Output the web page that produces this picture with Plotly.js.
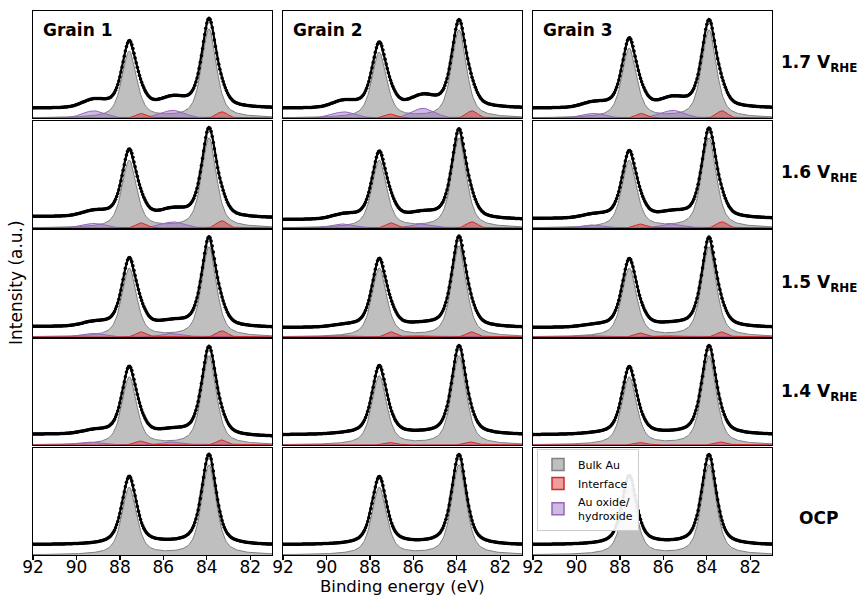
<!DOCTYPE html>
<html><head><meta charset="utf-8">
<script src="https://cdn.plot.ly/plotly-3.0.1.min.js"></script>
<style>body{margin:0;background:#fff}#chart{width:860px;height:597px}</style>
</head><body><div id="chart"></div>
<script>
// ---- labels ----
const grains = ['Grain 1', 'Grain 2', 'Grain 3'];
const potentials = ['1.7 V<sub>RHE</sub>', '1.6 V<sub>RHE</sub>', '1.5 V<sub>RHE</sub>', '1.4 V<sub>RHE</sub>', 'OCP'];
const xTicks = [92, 90, 88, 86, 84, 82];
const legendNames = ['Bulk Au', 'Interface', 'Au oxide/<br>hydroxide'];

// ---- fitted peak positions (eV) and FWHM ----
const bulkPos = [83.9, 87.57];
const intfPos = [83.3, 87.0];
const oxPos = [85.55, 89.2];
const bulkFwhm = 0.8, intfFwhm = 0.6, oxFwhm = 1.25;

// ---- fitted heights per panel [row][col] (normalised intensity) ----
const bulkH84 = [[0.87,0.86,0.86],[0.88,0.88,0.88],[0.88,0.89,0.88],[0.88,0.88,0.88],[0.88,0.88,0.88]];
const bulkH88 = [[0.65,0.64,0.68],[0.66,0.66,0.66],[0.67,0.67,0.67],[0.67,0.68,0.67],[0.66,0.66,0.67]];
const intfH84 = [[0.06,0.07,0.07],[0.07,0.06,0.06],[0.06,0.05,0.05],[0.05,0.03,0.03],[0,0,0]];
const intfH87 = [[0.045,0.04,0.045],[0.05,0.05,0.04],[0.05,0.05,0.04],[0.04,0.025,0.025],[0,0,0]];
const oxH85 = [[0.075,0.095,0.075],[0.06,0.04,0.04],[0.035,0.015,0.015],[0.03,0.005,0.005],[0,0,0]];
const oxH89 = [[0.07,0.06,0.045],[0.045,0.04,0.03],[0.035,0.015,0.015],[0.03,0.005,0.005],[0,0,0]];
// Shirley-type background levels: low-BE end, between peaks, high-BE end
const bgRight = [[0.095,0.095,0.095],[0.095,0.08,0.09],[0.09,0.09,0.09],[0.08,0.10,0.10],[0.095,0.095,0.095]];
const bgMid   = [[0.105,0.10,0.10],[0.10,0.09,0.095],[0.10,0.095,0.095],[0.10,0.10,0.10],[0.115,0.11,0.11]];
const bgLeft  = [[0.095,0.095,0.095],[0.11,0.08,0.09],[0.10,0.09,0.09],[0.105,0.10,0.10],[0.10,0.10,0.10]];

// ---- geometry (pixels) ----
const W = 860, H = 597;
const colPx = [[33,272],[283,522],[533,772]];
const rowPx = [[11,118],[121,228],[230,337],[339,445],[448,555]];

// line shapes of the fit model
function pv(x, c, h, f) { const eta = 0.6; const d = (x - c) / f;
  return h * (eta / (1 + 4 * d * d) + (1 - eta) * Math.exp(-4 * Math.LN2 * d * d)); }
function ga(x, c, h, f) { const d = (x - c) / f; return h * Math.exp(-4 * Math.LN2 * d * d); }
function step(x, c) { return 0.5 + Math.atan((x - c) / 0.4) / Math.PI; }

const xs = [];
for (let i = 0; i <= 220; i++) xs.push(+(81 + i * 0.05).toFixed(2));

const colors = {
  bulk: {fill: 'rgba(128,128,128,0.5)', line: '#808080'},
  intf: {fill: 'rgba(214,39,40,0.45)', line: '#d62728'},
  ox: {fill: 'rgba(148,103,189,0.45)', line: '#9467bd'}
};

const traces = [];
const layout = {
  width: W, height: H, margin: {l:0, r:0, t:0, b:0},
  paper_bgcolor: '#fff', plot_bgcolor: '#fff',
  font: {family: 'DejaVu Sans', color: '#000'},
  showlegend: true,
  legend: {x: 537/W, y: 1 - 449/H, xanchor: 'left', yanchor: 'top',
    bgcolor: 'rgba(255,255,255,0.9)', bordercolor: '#cccccc', borderwidth: 1,
    font: {size: 11, family: 'DejaVu Sans'}, tracegroupgap: 0, itemwidth: 30},
  annotations: []
};

for (let r = 0; r < 5; r++) {
  for (let c = 0; c < 3; c++) {
    const k = r * 3 + c + 1;
    const xa = 'x' + (k === 1 ? '' : k), ya = 'y' + (k === 1 ? '' : k);
    const bulk = xs.map(x => pv(x, bulkPos[0], bulkH84[r][c], bulkFwhm) + pv(x, bulkPos[1], bulkH88[r][c], bulkFwhm));
    const intf = xs.map(x => ga(x, intfPos[0], intfH84[r][c], intfFwhm) + ga(x, intfPos[1], intfH87[r][c], intfFwhm));
    const ox = xs.map(x => ga(x, oxPos[0], oxH85[r][c], oxFwhm) + ga(x, oxPos[1], oxH89[r][c], oxFwhm));
    const bg = xs.map(x => bgRight[r][c] + (bgMid[r][c] - bgRight[r][c]) * step(x, bulkPos[0]) + (bgLeft[r][c] - bgMid[r][c]) * step(x, bulkPos[1]));
    const data = xs.map((x, i) => bulk[i] + intf[i] + ox[i] + bg[i]);
    traces.push({x: xs, y: bulk, xaxis: xa, yaxis: ya, type: 'scatter', mode: 'lines', fill: 'tozeroy',
      fillcolor: colors.bulk.fill, line: {color: colors.bulk.line, width: 1}, showlegend: false, hoverinfo: 'skip'});
    if (r < 4) {
      traces.push({x: xs, y: ox, xaxis: xa, yaxis: ya, type: 'scatter', mode: 'lines', fill: 'tozeroy',
        fillcolor: colors.ox.fill, line: {color: colors.ox.line, width: 1}, showlegend: false, hoverinfo: 'skip'});
      traces.push({x: xs, y: intf, xaxis: xa, yaxis: ya, type: 'scatter', mode: 'lines', fill: 'tozeroy',
        fillcolor: colors.intf.fill, line: {color: colors.intf.line, width: 1}, showlegend: false, hoverinfo: 'skip'});
    }
    traces.push({x: xs, y: data, xaxis: xa, yaxis: ya, type: 'scatter', mode: 'lines+markers',
      line: {color: '#000', width: 2.2}, marker: {color: '#000', size: 3.5, symbol: 'circle'}, showlegend: false, hoverinfo: 'skip'});

    const bottom = (r === 4);
    layout['xaxis' + (k === 1 ? '' : k)] = {
      domain: [colPx[c][0] / W, colPx[c][1] / W], anchor: ya, range: [92, 81],
      showline: true, mirror: true, linecolor: '#000', linewidth: 1.3, showgrid: false, zeroline: false,
      ticks: bottom ? 'outside' : '', ticklen: 4, tickwidth: 1.2, tickcolor: '#000',
      tickvals: xTicks, showticklabels: bottom, ticklabelstandoff: -8,
      tickfont: {size: 17, family: 'DejaVu Sans'}
    };
    layout['yaxis' + (k === 1 ? '' : k)] = {
      domain: [1 - rowPx[r][1] / H, 1 - rowPx[r][0] / H], anchor: xa, range: [0, 1.05],
      showline: true, mirror: true, linecolor: '#000', linewidth: 1.3, showgrid: false, zeroline: false,
      ticks: '', showticklabels: false
    };
  }
}

// legend patches (no data, legend only)
[['bulk', 0], ['intf', 1], ['ox', 2]].forEach(([key, i]) => traces.push({
  type: 'bar', x: [null], y: [null], xaxis: 'x15', yaxis: 'y15', name: legendNames[i],
  marker: {color: colors[key].fill, line: {color: colors[key].line, width: 1.5}}, showlegend: true, hoverinfo: 'skip'}));

// grain titles
grains.forEach((g, c) => layout.annotations.push({text: '<b>' + g + '</b>', xref: 'paper', yref: 'paper',
  x: (colPx[c][0] + 8) / W, y: 1 - 30 / H, xanchor: 'left', yanchor: 'middle', showarrow: false,
  font: {size: 17, family: 'DejaVu Sans', color: '#000'}}));
// potential labels
const rowCenters = [64, 174, 283, 392, 518];
potentials.forEach((p, r) => layout.annotations.push({text: '<b>' + p + '</b>', xref: 'paper', yref: 'paper',
  x: (r === 4 ? 818 : 779) / W, y: 1 - rowCenters[r] / H, xanchor: r === 4 ? 'center' : 'left', yanchor: 'middle', showarrow: false,
  font: {size: 17, family: 'DejaVu Sans', color: '#000'}}));
// axis titles
layout.annotations.push({text: 'Binding energy (eV)', xref: 'paper', yref: 'paper', x: 402 / W, y: 1 - 586 / H,
  xanchor: 'center', yanchor: 'middle', showarrow: false, font: {size: 16.5, family: 'DejaVu Sans'}});
layout.annotations.push({text: 'Intensity (a.u.)', xref: 'paper', yref: 'paper', x: 16 / W, y: 1 - 283 / H,
  xanchor: 'center', yanchor: 'middle', textangle: -90, showarrow: false, font: {size: 17, family: 'DejaVu Sans'}});

Plotly.newPlot('chart', traces, layout, {staticPlot: true});
</script></body></html>
